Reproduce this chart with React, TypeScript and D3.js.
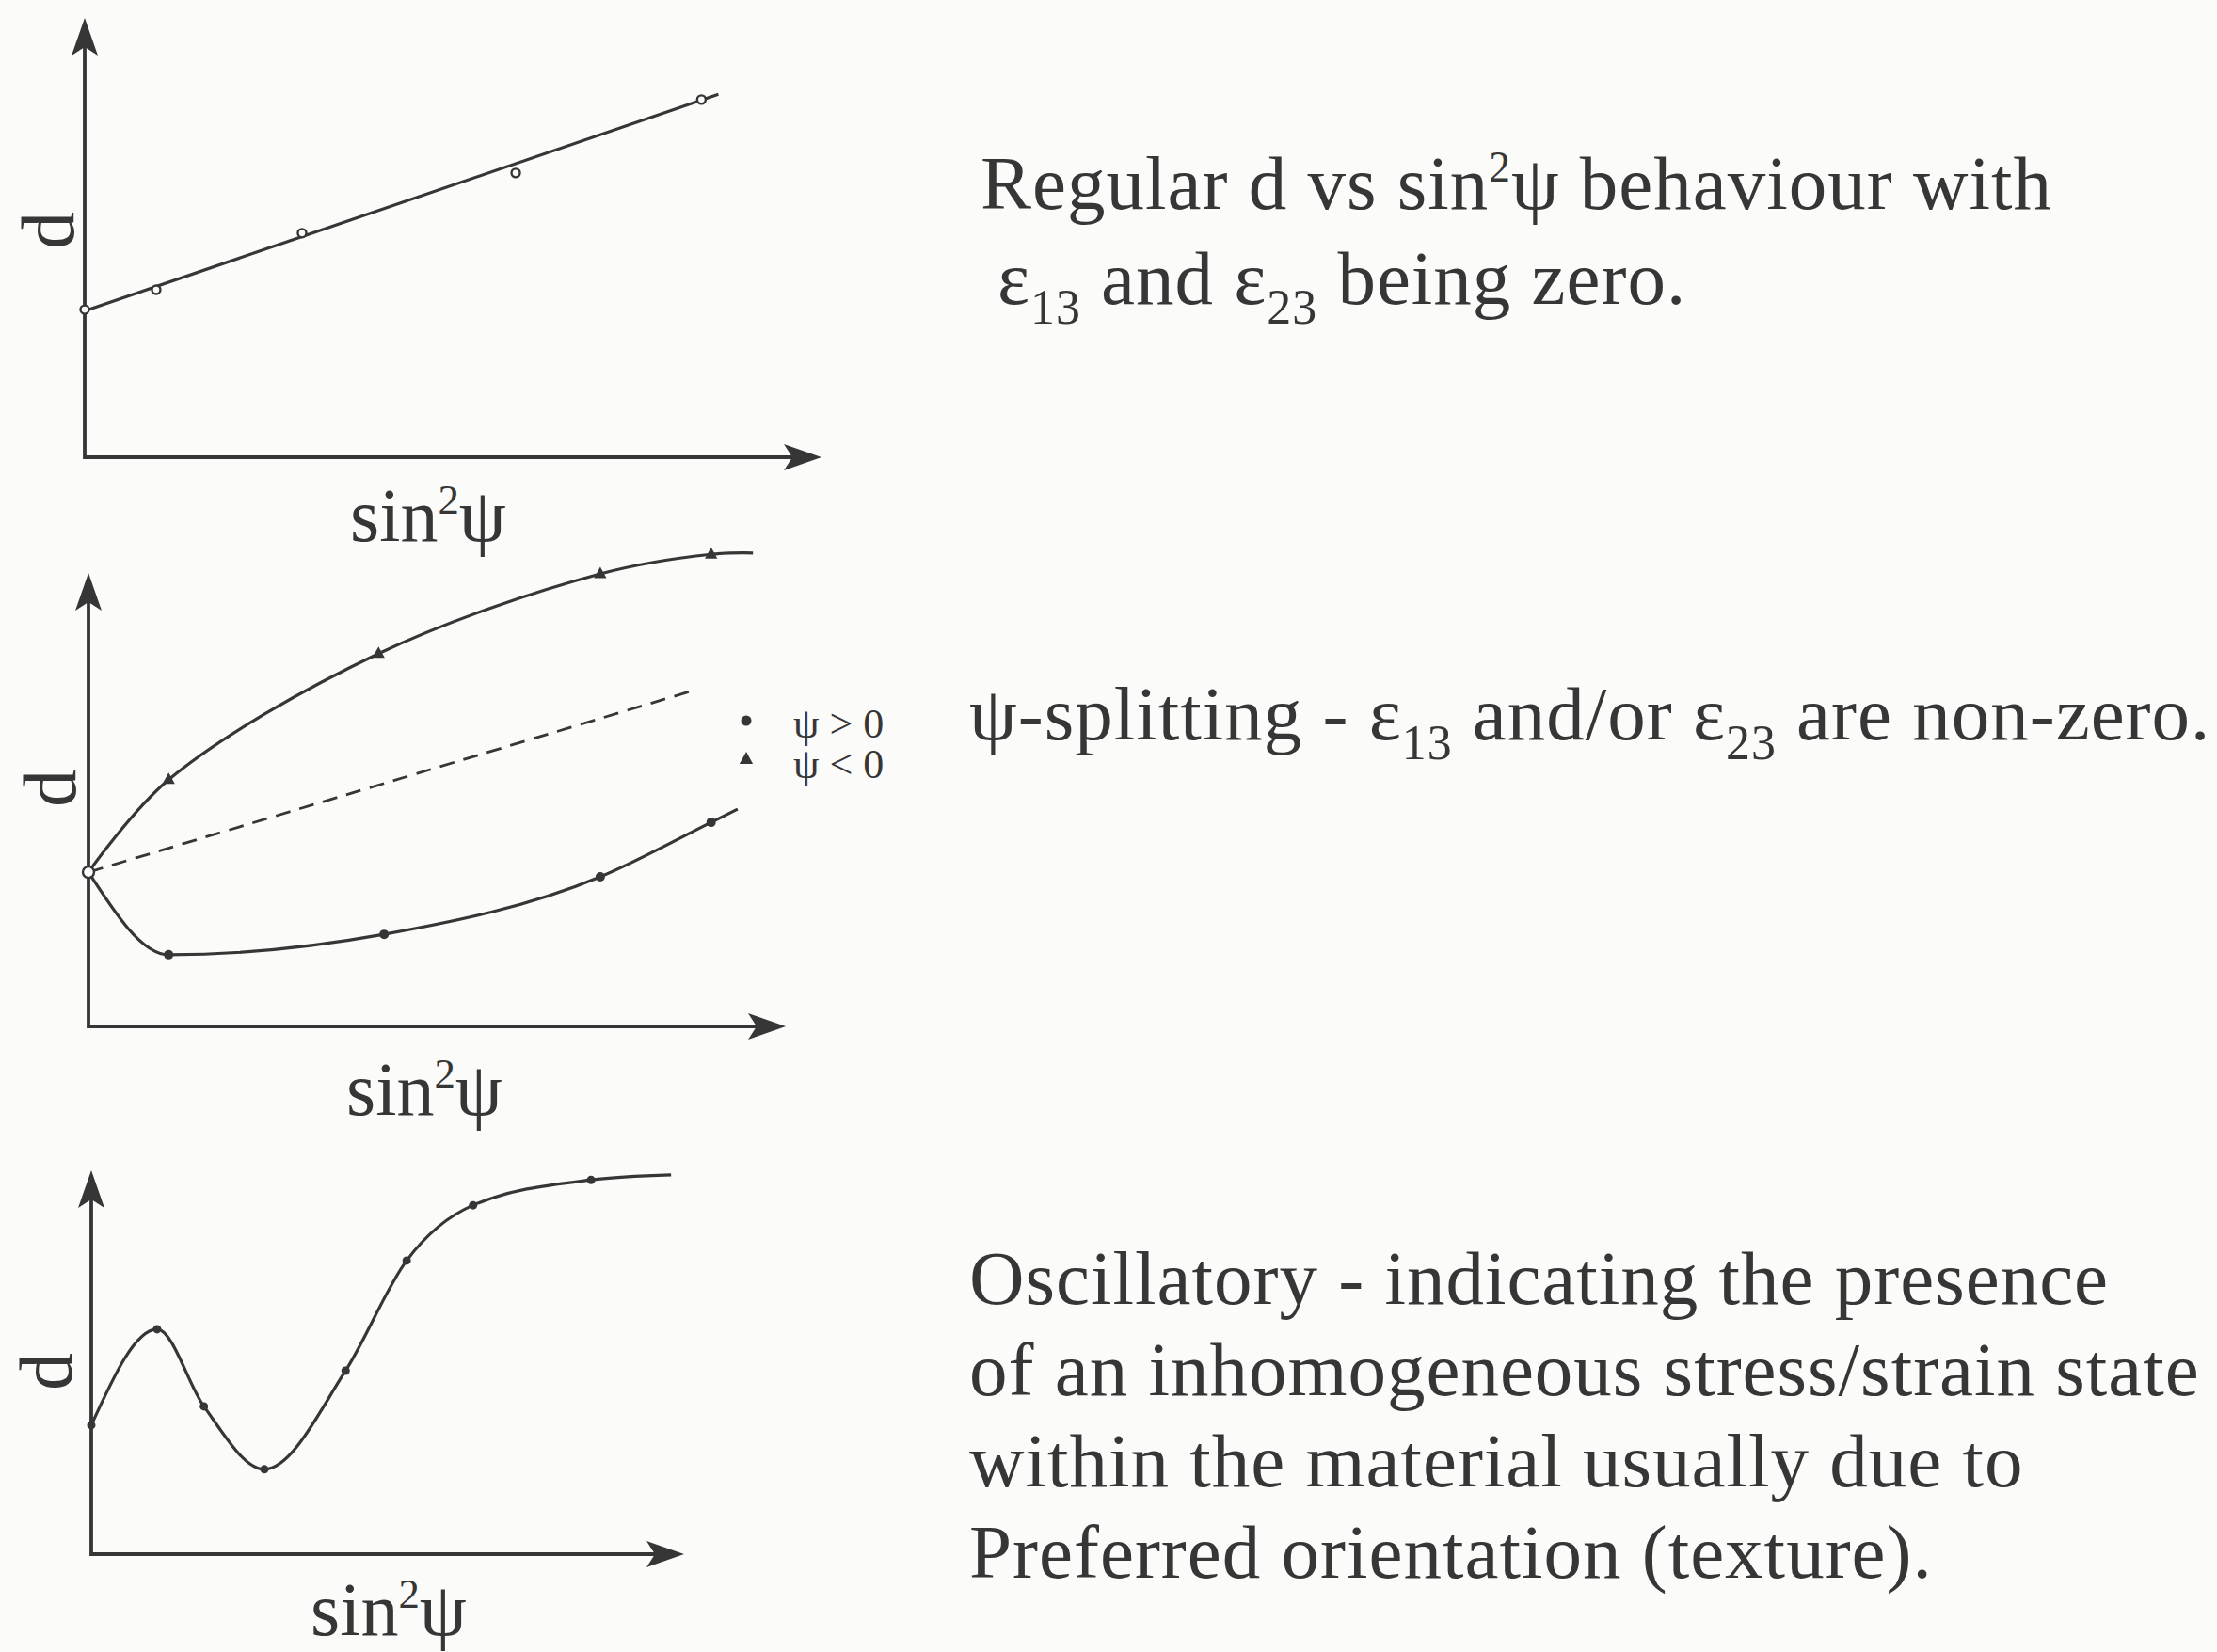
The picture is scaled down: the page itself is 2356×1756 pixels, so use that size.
import React, { useMemo } from "react";
import * as d3 from "d3";

// ---------- data (sin²ψ in axis units 0..1, d in axis units 0..1) ----------

// Regular behaviour: measured points and their straight-line fit
const regularSin2Psi = [0, 0.097, 0.295, 0.585, 0.837];
const regularD = [0.336, 0.381, 0.51, 0.647, 0.814];
const regularFitSin2Psi = [0, 0.86];
const regularFitD = [0.333, 0.826];

// ψ-splitting: shared origin, ψ<0 branch (triangles), ψ>0 branch (dots), mean (dashed)
const splitOrigin = [0, 0.34];
const psiNegSin2Psi = [0.115, 0.416, 0.734, 0.893];
const psiNegD = [0.544, 0.822, 0.998, 1.041];
const psiNegTail = [0.953, 1.044];
const psiPosSin2Psi = [0.115, 0.424, 0.734, 0.893];
const psiPosD = [0.158, 0.203, 0.33, 0.45];
const psiPosTail = [0.931, 0.479];
const meanSin2Psi = [0, 0.868];
const meanD = [0.34, 0.741];

// Oscillatory behaviour
const oscSin2Psi = [0, 0.111, 0.19, 0.292, 0.429, 0.532, 0.644, 0.843];
const oscD = [0.336, 0.586, 0.385, 0.221, 0.478, 0.765, 0.909, 0.975];
const oscTail = [0.978, 0.988];

// Texts
const axisLabelY = "d";
const legendLabels = ["ψ > 0", "ψ < 0"];
type Part = [string, ("sup" | "sub")?];
const captionLines: Part[][] = [
  [["Regular d vs sin"], ["2", "sup"], ["ψ behaviour with"]],
  [["ε"], ["13", "sub"], [" and ε"], ["23", "sub"], [" being zero."]],
  [["ψ-splitting - ε"], ["13", "sub"], [" and/or ε"], ["23", "sub"], [" are non-zero."]],
  [["Oscillatory - indicating the presence"]],
  [["of an inhomogeneous stress/strain state"]],
  [["within the material usually due to"]],
  [["Preferred orientation (texture)."]],
];

// ---------- layout ----------
const W = 2356;
const H = 1756;
const FONT = '"Liberation Serif", "Times New Roman", Times, serif';
const INK = "#363636";
const BG = "#fbfbfa";

const panels = [
  { ox: 90, oy: 486, xTip: 873, yTip: 19, labelX: 455, labelY: 575, dX: 78, dY: 245 },
  { ox: 94, oy: 1091, xTip: 835, yTip: 609, labelX: 451, labelY: 1185, dX: 80, dY: 838 },
  { ox: 97, oy: 1652, xTip: 727, yTip: 1244, labelX: 413, labelY: 1738, dX: 76, dY: 1458 },
];
const captionLayout = [
  { x: 1042, y: 222 },
  { x: 1060, y: 323 },
  { x: 1030, y: 786 },
  { x: 1030, y: 1386 },
  { x: 1030, y: 1483 },
  { x: 1030, y: 1580 },
  { x: 1030, y: 1677 },
];
const CAPTION_FS = 81;
const CAPTION_LS = 1.0;
const AXIS_FS = 80;
const LEGEND_FS = 44;

function RichText({
  x,
  y,
  parts,
  fs,
  ls = 0,
  anchor = "start",
}: {
  x: number;
  y: number;
  parts: Part[];
  fs: number;
  ls?: number;
  anchor?: string;
}) {
  const nodes: React.ReactNode[] = [];
  let shift = 0;
  parts.forEach(([t, kind], i) => {
    let target = 0;
    let size = fs;
    if (kind === "sup") {
      target = -0.36 * fs;
      size = 0.56 * fs;
    } else if (kind === "sub") {
      target = 0.26 * fs;
      size = 0.64 * fs;
    }
    const dy = target - shift;
    shift = target;
    nodes.push(
      <tspan key={i} dy={dy || undefined} fontSize={size}>
        {t}
      </tspan>
    );
  });
  return (
    <text
      x={x}
      y={y}
      fontFamily={FONT}
      fontSize={fs}
      fill={INK}
      letterSpacing={ls}
      textAnchor={anchor}
      style={{ whiteSpace: "pre" }}
    >
      {nodes}
    </text>
  );
}

function Axes({ p }: { p: (typeof panels)[number] }) {
  const L = 40;
  const hw = 14;
  const notch = 9;
  const up = `M${p.ox},${p.yTip} L${p.ox - hw},${p.yTip + L} L${p.ox},${p.yTip + L - notch} L${p.ox + hw},${p.yTip + L} Z`;
  const right = `M${p.xTip},${p.oy} L${p.xTip - L},${p.oy - hw} L${p.xTip - L + notch},${p.oy} L${p.xTip - L},${p.oy + hw} Z`;
  return (
    <g>
      <path
        d={`M${p.ox},${p.yTip + L - notch - 2} V${p.oy} H${p.xTip - L + notch + 2}`}
        fill="none"
        stroke={INK}
        strokeWidth={3.8}
        strokeLinejoin="miter"
      />
      <path d={up} fill={INK} />
      <path d={right} fill={INK} />
      <text
        transform={`translate(${p.dX},${p.dY}) rotate(-90)`}
        textAnchor="middle"
        fontFamily={FONT}
        fontSize={AXIS_FS}
        fill={INK}
      >
        {axisLabelY}
      </text>
      <RichText x={p.labelX} y={p.labelY} fs={AXIS_FS} anchor="middle" parts={[["sin"], ["2", "sup"], ["ψ"]]} />
    </g>
  );
}

function triangle(cx: number, cy: number, s: number) {
  return `M${cx},${cy - s * 0.62} L${cx + s * 0.55},${cy + s * 0.38} L${cx - s * 0.55},${cy + s * 0.38} Z`;
}

export default function App() {
  const scales = useMemo(
    () =>
      panels.map((p) => ({
        x: d3.scaleLinear().domain([0, 1]).range([p.ox, p.xTip]),
        y: d3.scaleLinear().domain([0, 1]).range([p.oy, p.yTip]),
      })),
    []
  );

  // Panel A
  const A = scales[0];
  const fitLine = d3
    .line<number>()
    .x((_, i) => A.x(regularFitSin2Psi[i]))
    .y((v) => A.y(v))(regularFitD);

  // Panel B
  const B = scales[1];
  const negPts: [number, number][] = [
    [splitOrigin[0], splitOrigin[1]],
    ...psiNegSin2Psi.map((s, i) => [s, psiNegD[i]] as [number, number]),
    [psiNegTail[0], psiNegTail[1]],
  ];
  const posPts: [number, number][] = [
    [splitOrigin[0], splitOrigin[1]],
    ...psiPosSin2Psi.map((s, i) => [s, psiPosD[i]] as [number, number]),
    [psiPosTail[0], psiPosTail[1]],
  ];
  const upperB = d3
    .line<[number, number]>()
    .x((d) => B.x(d[0]))
    .y((d) => B.y(d[1]))
    .curve(d3.curveCatmullRom.alpha(0.5));
  const lowerB = d3
    .line<[number, number]>()
    .x((d) => B.x(d[0]))
    .y((d) => B.y(d[1]))
    .curve(d3.curveMonotoneX);
  const meanLine = d3
    .line<number>()
    .x((_, i) => B.x(meanSin2Psi[i]))
    .y((v) => B.y(v))(meanD);

  // Panel C
  const C = scales[2];
  const oscPts: [number, number][] = [
    ...oscSin2Psi.map((s, i) => [s, oscD[i]] as [number, number]),
    [oscTail[0], oscTail[1]],
  ];
  const lineC = d3
    .line<[number, number]>()
    .x((d) => C.x(d[0]))
    .y((d) => C.y(d[1]))
    .curve(d3.curveMonotoneX);

  return (
    <svg
      width={W}
      height={H}
      viewBox={`0 0 ${W} ${H}`}
      style={{ position: "absolute", left: 0, top: 0, display: "block" }}
    >
      <rect width={W} height={H} fill={BG} />

      {panels.map((p, i) => (
        <Axes key={i} p={p} />
      ))}

      {/* Regular d vs sin²ψ */}
      <path d={fitLine ?? ""} fill="none" stroke={INK} strokeWidth={3.2} />
      {regularSin2Psi.map((s, i) => (
        <circle key={i} cx={A.x(s)} cy={A.y(regularD[i])} r={4.5} fill={BG} stroke={INK} strokeWidth={2.4} />
      ))}

      {/* ψ-splitting */}
      <path d={meanLine ?? ""} fill="none" stroke={INK} strokeWidth={2.8} strokeDasharray="16,10" />
      <path d={upperB(negPts) ?? ""} fill="none" stroke={INK} strokeWidth={3.2} />
      <path d={lowerB(posPts) ?? ""} fill="none" stroke={INK} strokeWidth={3.2} />
      {psiNegSin2Psi.map((s, i) => (
        <path key={i} d={triangle(B.x(s), B.y(psiNegD[i]), 12)} fill={INK} />
      ))}
      {psiPosSin2Psi.map((s, i) => (
        <circle key={i} cx={B.x(s)} cy={B.y(psiPosD[i])} r={5} fill={INK} />
      ))}
      <circle cx={B.x(splitOrigin[0])} cy={B.y(splitOrigin[1])} r={6} fill={BG} stroke={INK} strokeWidth={2.4} />

      {/* legend */}
      <circle cx={793} cy={766} r={5.5} fill={INK} />
      <path d={triangle(793, 807, 13)} fill={INK} />
      <text x={843} y={784} fontFamily={FONT} fontSize={LEGEND_FS} fill={INK} style={{ whiteSpace: "pre" }}>
        {legendLabels[0]}
      </text>
      <text x={843} y={827} fontFamily={FONT} fontSize={LEGEND_FS} fill={INK} style={{ whiteSpace: "pre" }}>
        {legendLabels[1]}
      </text>

      {/* Oscillatory */}
      <path d={lineC(oscPts) ?? ""} fill="none" stroke={INK} strokeWidth={3.2} />
      {oscSin2Psi.map((s, i) => (
        <circle key={i} cx={C.x(s)} cy={C.y(oscD[i])} r={4.5} fill={INK} />
      ))}

      {/* captions */}
      {captionLines.map((parts, i) => (
        <RichText
          key={i}
          x={captionLayout[i].x}
          y={captionLayout[i].y}
          parts={parts}
          fs={CAPTION_FS}
          ls={CAPTION_LS}
        />
      ))}
    </svg>
  );
}
